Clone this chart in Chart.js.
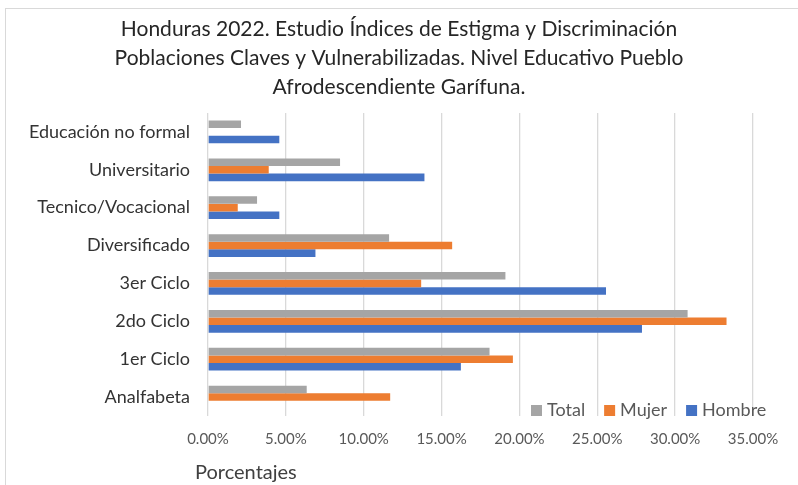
<!DOCTYPE html>
<html>
<head>
<meta charset="utf-8">
<title>Nivel Educativo Pueblo Garífuna</title>
<script src="https://cdn.jsdelivr.net/npm/chart.js"></script>
<style>
  html, body {
    margin: 0;
    padding: 0;
    width: 798px;
    height: 485px;
    overflow: hidden;
    background: #fff;
  }
  .frame {
    position: absolute;
    left: 5px;
    top: 8px;
    width: 900px;
    height: 600px;
    border: 1px solid #d9d9d9;
  }
  #chart {
    position: absolute;
    left: 0;
    top: 0;
  }
</style>
</head>
<body>
<div class="frame"></div>
<canvas id="chart" width="798" height="485"></canvas>
<script>
// categories, top to bottom
const categories = ["Educación no formal", "Universitario", "Tecnico/Vocacional", "Diversificado",
                    "3er Ciclo", "2do Ciclo", "1er Ciclo", "Analfabeta"];
// percentages
const total  = [2.12, 8.48, 3.15, 11.63, 19.10, 30.80, 18.08, 6.34];
const mujer  = [0,    3.90, 1.91, 15.68, 13.69, 33.30, 19.58, 11.70];
const hombre = [4.58, 13.90, 4.58, 6.90, 25.56, 27.87, 16.24, 0];
const seriesNames = ["Total", "Mujer", "Hombre"];
const seriesColors = ["#a5a5a5", "#ed7d31", "#4472c4"];
const titleLines = ["Honduras 2022. Estudio Índices de Estigma y Discriminación",
                    "Poblaciones Claves y Vulnerabilizadas. Nivel Educativo Pueblo",
                    "Afrodescendiente Garífuna."];
const axisTitle = "Porcentajes";

const FONT = "Lato, 'Open Sans', sans-serif";

// legend sits inside the plot, bottom right, like the excel one;
// axis title sits a bit left of the plot start
const extras = {
  id: 'extras',
  afterDraw(chart) {
    const ctx = chart.ctx;
    const area = chart.chartArea;
    const y = area.bottom - 6;
    let x = 531;
    ctx.save();
    ctx.font = "18px " + FONT;
    ctx.textBaseline = "middle";
    ctx.textAlign = "left";
    chart.data.datasets.forEach(ds => {
      ctx.fillStyle = ds.backgroundColor;
      ctx.fillRect(x, y - 5, 11, 11);
      x += 16;
      ctx.fillStyle = "#595959";
      ctx.fillText(ds.label, x, y);
      x += ctx.measureText(ds.label).width + 19;
    });
    ctx.font = "20px " + FONT;
    ctx.fillStyle = "#404040";
    ctx.fillText(axisTitle, area.left - 13, area.bottom + 57);
    ctx.restore();
  }
};

const data = [total, mujer, hombre];

new Chart(document.getElementById('chart'), {
  type: 'bar',
  data: {
    labels: categories,
    datasets: seriesNames.map((name, i) => ({
      label: name,
      data: data[i],
      backgroundColor: seriesColors[i],
      borderWidth: 0,
      categoryPercentage: 0.6,
      barPercentage: 1.0
    }))
  },
  options: {
    indexAxis: 'y',
    responsive: false,
    animation: false,
    devicePixelRatio: 1,
    layout: { padding: 0 },
    plugins: {
      legend: { display: false },
      tooltip: { enabled: false },
      title: {
        display: true,
        text: titleLines,
        color: "#262626",
        font: { family: FONT, size: 21, weight: 'normal', lineHeight: 1.38 },
        padding: { top: 15, bottom: 11 }
      }
    },
    scales: {
      x: {
        min: 0,
        max: 35,
        afterFit: s => { s.height = 69; },
        ticks: {
          stepSize: 5,
          padding: 14,
          color: "#595959",
          font: { family: FONT, size: 15 },
          callback: v => v.toFixed(2) + "%"
        },
        grid: { color: "#d9d9d9", lineWidth: 1.3, drawTicks: false },
        border: { display: false }
      },
      y: {
        afterFit: s => { s.width = 208; },
        ticks: {
          padding: 18,
          color: "#333333",
          font: { family: FONT, size: 18 }
        },
        grid: { display: false, drawTicks: false },
        border: { display: false }
      },
      // empty spacer on the right so the title centres on the whole picture
      yRight: {
        type: 'category',
        position: 'right',
        afterFit: s => { s.width = 45; },
        ticks: { display: false },
        grid: { display: false, drawTicks: false },
        border: { display: false }
      }
    }
  },
  plugins: [extras]
});
</script>
</body>
</html>
